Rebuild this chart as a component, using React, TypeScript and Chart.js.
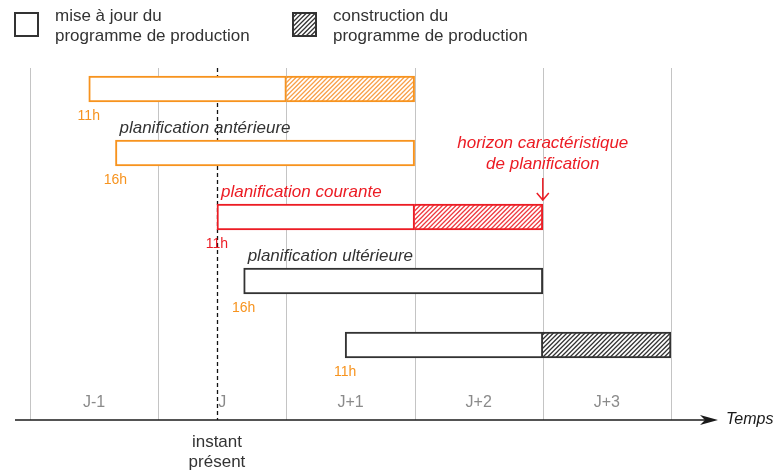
import React, { useEffect, useRef } from 'react';
import { Chart, registerables } from 'chart.js';

Chart.register(...registerables);

// ---- data ----
const rows = ['r1', 'r2', 'r3', 'r4', 'r5'];
// hours counted from the start of day J-1
const updateStart = [11, 16, 35, 40, 59];
const updateEnd = [48, 72, 72, 96, 96];
const buildStart: (number | null)[] = [48, null, 72, null, 96];
const buildEnd: (number | null)[] = [72, null, 96, null, 120];
const startLabels = ['11h', '16h', '11h', '16h', '11h'];
const dayLabels = ['J-1', 'J', 'J+1', 'J+2', 'J+3'];
const dayBoundaries = [0, 24, 48, 72, 96, 120];
const nowHour = 35;
const horizonHour = 96;
const legendLabels = [
  ['mise à jour du', 'programme de production'],
  ['construction du', 'programme de production'],
];
const annotationRows = [1, 2, 3];
const annotationTexts = ['planification antérieure', 'planification courante', 'planification ultérieure'];

// ---- styles ----
const ORANGE = '#f7931e';
const ORANGE_HATCH = '#f8a04a';
const RED = '#ec1c24';
const RED_HATCH = '#ee3a40';
const DARK = '#333333';
const GRID = '#c4c4c4';
const FONT = '"Liberation Sans", Arial, sans-serif';
const rowColors = [ORANGE, ORANGE, RED, DARK, DARK];
const hatchColors = [ORANGE_HATCH, ORANGE_HATCH, RED_HATCH, DARK, DARK];
const labelColors = [ORANGE, ORANGE, RED, ORANGE, ORANGE];
const annotationColors = [DARK, RED, DARK];

function makeHatch(color: string): CanvasPattern | string {
  const s = 9;
  const step = 4.5;
  const c = document.createElement('canvas');
  c.width = s;
  c.height = s;
  const g = c.getContext('2d');
  if (!g) return color;
  g.fillStyle = '#ffffff';
  g.fillRect(0, 0, s, s);
  g.strokeStyle = color;
  g.lineWidth = 1.3;
  g.beginPath();
  for (let k = -step; k <= 2 * s + step; k += step) {
    g.moveTo(-3, k + 3);
    g.lineTo(k + 3, -3);
  }
  g.stroke();
  const p = g.createPattern(c, 'repeat');
  return p || color;
}

const decorPlugin = {
  id: 'decor',
  beforeDatasetsDraw(chart: any) {
    const ctx: CanvasRenderingContext2D = chart.ctx;
    const xs = chart.scales.x;
    const area = chart.chartArea;
    const gridTop = area.top + 11;
    const axisY = area.bottom + 43;
    ctx.save();
    // grid lines
    ctx.strokeStyle = GRID;
    ctx.lineWidth = 1;
    dayBoundaries.forEach((h) => {
      const x = Math.round(xs.getPixelForValue(h)) + 0.5;
      ctx.beginPath();
      ctx.moveTo(x, gridTop);
      ctx.lineTo(x, axisY);
      ctx.stroke();
    });
    // present instant dashed line
    const nx = Math.round(xs.getPixelForValue(nowHour)) + 0.5;
    ctx.strokeStyle = '#111';
    ctx.lineWidth = 1.3;
    ctx.setLineDash([4, 3]);
    ctx.beginPath();
    ctx.moveTo(nx, gridTop);
    ctx.lineTo(nx, axisY);
    ctx.stroke();
    ctx.setLineDash([]);
    ctx.restore();
  },
  afterDatasetsDraw(chart: any) {
    const ctx: CanvasRenderingContext2D = chart.ctx;
    const xs = chart.scales.x;
    const area = chart.chartArea;
    const axisY = area.bottom + 43;
    const meta = chart.getDatasetMeta(0);
    ctx.save();

    // day labels
    ctx.font = `16px ${FONT}`;
    ctx.fillStyle = '#8a8a8a';
    ctx.textAlign = 'center';
    ctx.textBaseline = 'middle';
    dayLabels.forEach((d, i) => {
      const x = (xs.getPixelForValue(dayBoundaries[i]) + xs.getPixelForValue(dayBoundaries[i + 1])) / 2;
      ctx.fillText(d, x, axisY - 17);
    });

    // time axis with arrow
    const ax0 = area.left - 15;
    const ax1 = area.right + 47;
    ctx.strokeStyle = '#1a1a1a';
    ctx.lineWidth = 1.5;
    ctx.beginPath();
    ctx.moveTo(ax0, axisY);
    ctx.lineTo(ax1 - 10, axisY);
    ctx.stroke();
    ctx.fillStyle = '#1a1a1a';
    ctx.beginPath();
    ctx.moveTo(ax1, axisY);
    ctx.lineTo(ax1 - 18, axisY - 5);
    ctx.lineTo(ax1 - 13, axisY);
    ctx.lineTo(ax1 - 18, axisY + 5);
    ctx.closePath();
    ctx.fill();
    ctx.font = `italic 16px ${FONT}`;
    ctx.fillStyle = '#1a1a1a';
    ctx.textAlign = 'left';
    ctx.fillText('Temps', ax1 + 8, axisY);

    // instant présent
    const nx = xs.getPixelForValue(nowHour);
    ctx.font = `17px ${FONT}`;
    ctx.fillStyle = DARK;
    ctx.textAlign = 'center';
    ctx.fillText('instant', nx, axisY + 22);
    ctx.fillText('présent', nx, axisY + 42);

    // start hour labels
    ctx.font = `14px ${FONT}`;
    rows.forEach((_, i) => {
      const bar = meta.data[i];
      const bottom = bar.y + bar.height / 2;
      ctx.fillStyle = labelColors[i];
      ctx.fillText(startLabels[i], xs.getPixelForValue(updateStart[i]), bottom + 14);
    });

    // plan annotations
    ctx.font = `italic 17px ${FONT}`;
    ctx.textAlign = 'left';
    annotationRows.forEach((r, k) => {
      const bar = meta.data[r];
      const top = bar.y - bar.height / 2;
      ctx.fillStyle = annotationColors[k];
      ctx.fillText(annotationTexts[k], xs.getPixelForValue(updateStart[r]) + 4, top - 12);
    });

    // horizon annotation
    const hb = meta.data[2];
    const hTop = hb.y - hb.height / 2;
    const hx = xs.getPixelForValue(horizonHour);
    ctx.fillStyle = RED;
    ctx.textAlign = 'center';
    ctx.fillText('horizon caractéristique', hx, hTop - 61);
    ctx.fillText('de planification', hx, hTop - 40);
    ctx.strokeStyle = RED;
    ctx.lineWidth = 1.5;
    ctx.beginPath();
    ctx.moveTo(hx, hTop - 26);
    ctx.lineTo(hx, hTop - 4);
    ctx.moveTo(hx - 6, hTop - 11);
    ctx.lineTo(hx, hTop - 4);
    ctx.lineTo(hx + 6, hTop - 11);
    ctx.stroke();

    // legend
    const boxes = [
      { x: 14, fill: '#ffffff' as string | CanvasPattern },
      { x: 292, fill: makeHatch(DARK) },
    ];
    boxes.forEach((b, i) => {
      ctx.fillStyle = b.fill;
      ctx.fillRect(b.x, 12, 25, 25);
      ctx.strokeStyle = DARK;
      ctx.lineWidth = 2;
      ctx.strokeRect(b.x + 1, 13, 23, 23);
      ctx.font = `17px ${FONT}`;
      ctx.fillStyle = DARK;
      ctx.textAlign = 'left';
      ctx.textBaseline = 'middle';
      ctx.fillText(legendLabels[i][0], b.x + 41, 16);
      ctx.fillText(legendLabels[i][1], b.x + 41, 36);
    });

    ctx.restore();
  },
};

export default function App() {
  const ref = useRef<HTMLCanvasElement>(null);
  useEffect(() => {
    if (!ref.current) return;
    const chart = new Chart(ref.current, {
      type: 'bar',
      data: {
        labels: rows,
        datasets: [
          {
            label: legendLabels[0].join(' '),
            data: rows.map((_, i) => [updateStart[i], updateEnd[i]]) as any,
            backgroundColor: '#ffffff',
            borderColor: rowColors,
            borderWidth: 2,
            borderSkipped: false,
            barThickness: 26,
            grouped: false,
          } as any,
          {
            label: legendLabels[1].join(' '),
            data: rows.map((_, i) =>
              buildStart[i] === null ? null : [buildStart[i], buildEnd[i]]
            ) as any,
            backgroundColor: hatchColors.map((c) => makeHatch(c)),
            borderColor: rowColors,
            borderWidth: 2,
            borderSkipped: 'start',
            barThickness: 26,
            grouped: false,
          } as any,
        ],
      },
      options: {
        indexAxis: 'y',
        animation: false,
        responsive: false,
        maintainAspectRatio: false,
        layout: { padding: { left: 30, right: 104, top: 57, bottom: 93 } },
        scales: {
          x: { type: 'linear', min: 0, max: 120, display: false },
          y: { type: 'category', display: false },
        },
        plugins: {
          legend: { display: false },
          tooltip: { enabled: false },
        },
      },
      plugins: [decorPlugin],
    });
    return () => chart.destroy();
  }, []);
  return (
    <div style={{ position: 'absolute', left: 0, top: 0, width: 775, height: 470, background: '#ffffff' }}>
      <canvas ref={ref} width={775} height={470} style={{ display: 'block' }} />
    </div>
  );
}
